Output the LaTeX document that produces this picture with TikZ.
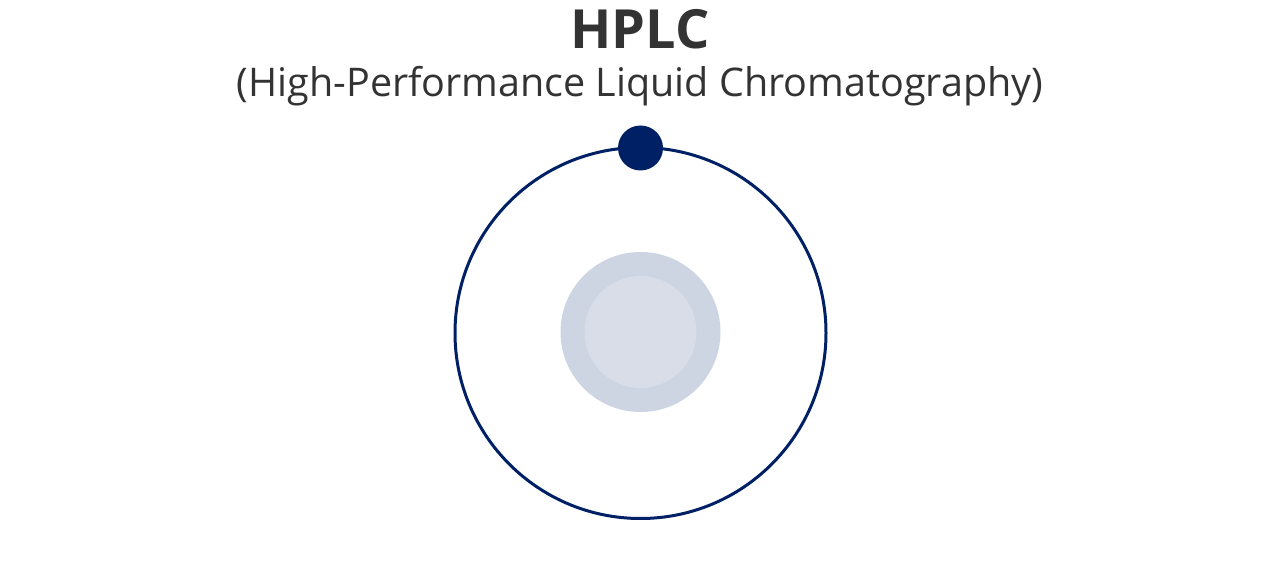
\documentclass[tikz,border=0pt]{standalone}
\usepackage{fontspec}
\setmainfont{Open Sans}
\definecolor{navy}{HTML}{002066}
\definecolor{ringfill}{HTML}{CDD5E3}
\definecolor{corefill}{HTML}{D8DDE8}
\definecolor{txt}{HTML}{333333}
\begin{document}
\begin{tikzpicture}[x=1pt,y=-1pt,
  titletext/.style={text=txt,font=\fontsize{54}{60}\selectfont\bfseries,anchor=base,inner sep=0pt},
  subtext/.style={text=txt,font=\fontsize{39.5}{46}\selectfont,anchor=base,inner sep=0pt},
  orbit/.style={draw=navy,line width=3pt,circle,minimum size=371pt,inner sep=0pt},
  disk/.style={circle,inner sep=0pt,draw=none}]
\useasboundingbox (0,0) rectangle (1280,588);
\node[titletext] (title) at (640,49) {HPLC};
\node[subtext] (sub) at (640,96.7) {(High-Performance Liquid Chromatography)};
\node[orbit] (orb) at (640.5,333) {};
\node[disk,fill=ringfill,minimum size=160pt] (ring) at (640.5,332) {};
\node[disk,fill=corefill,minimum size=112pt] (core) at (640.5,332) {};
\node[disk,fill=navy,minimum size=45pt] (dot) at (640.5,148) {};
\end{tikzpicture}
\end{document}
